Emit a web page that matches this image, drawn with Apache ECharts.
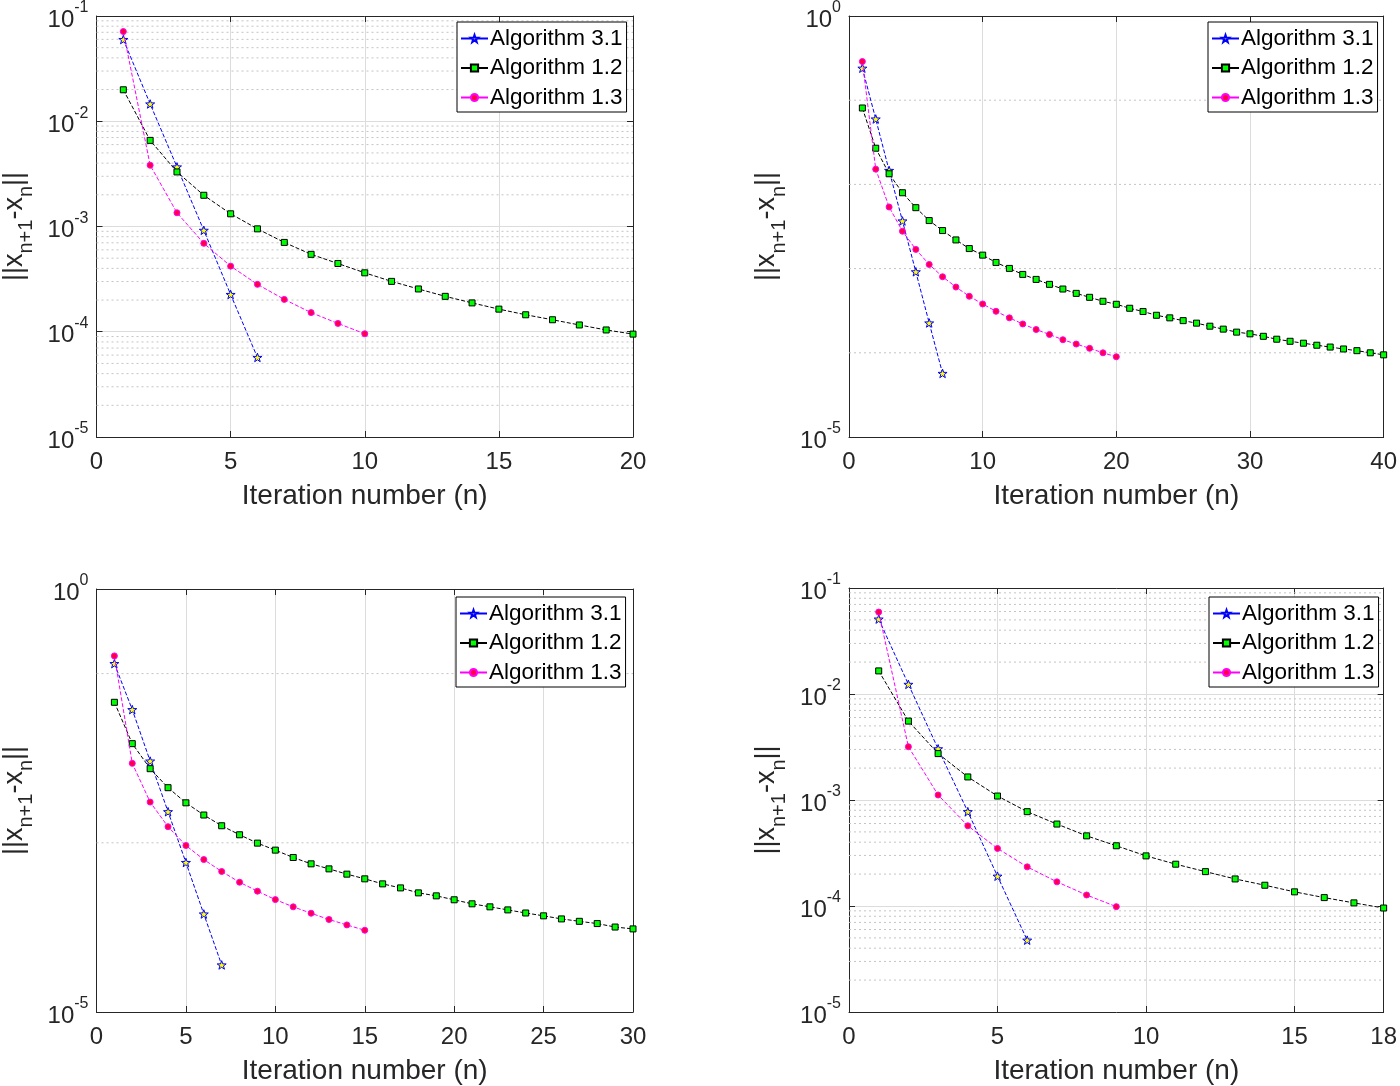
<!DOCTYPE html>
<html><head><meta charset="utf-8">
<script src="https://cdn.jsdelivr.net/npm/echarts@6/dist/echarts.min.js"></script>
<style>html,body{margin:0;padding:0;background:#fff}#c{width:1400px;height:1086px}</style>
</head><body><div id="c"></div>
<script>
// ---------- DATA ----------
const seriesNames = ['Algorithm 3.1', 'Algorithm 1.2', 'Algorithm 1.3'];
const xLabel = 'Iteration number (n)';

// Panel A (top-left)
const pA_alg31 = [0.0598, 0.0146, 0.00368, 9.2e-4, 2.26e-4, 5.7e-5];
const pA_alg12 = [0.0199, 0.00658, 0.00330, 0.00198, 0.00132, 9.5e-4, 7.06e-4, 5.44e-4, 4.45e-4, 3.63e-4,
                  3.01e-4, 2.55e-4, 2.17e-4, 1.88e-4, 1.64e-4, 1.45e-4, 1.30e-4, 1.16e-4, 1.04e-4, 9.5e-5];
const pA_alg13 = [0.0712, 0.00382, 0.00135, 6.92e-4, 4.20e-4, 2.82e-4, 2.03e-4, 1.52e-4, 1.20e-4, 9.57e-5];

// Panel B (top-right)
const pB_alg31 = [0.240, 0.0598, 0.01465, 0.00368, 9.16e-4, 2.26e-4, 5.69e-5];
const pB_alg12 = [0.0808, 0.0269, 0.01337, 0.00796, 0.00529, 0.00372, 0.00283, 0.00219, 0.00173, 0.001445,
                  0.001183, 0.001005, 8.53e-4, 7.44e-4, 6.50e-4, 5.72e-4, 5.08e-4, 4.56e-4, 4.09e-4, 3.77e-4,
                  3.38e-4, 3.09e-4, 2.79e-4, 2.60e-4, 2.41e-4, 2.25e-4, 2.07e-4, 1.91e-4, 1.76e-4, 1.68e-4,
                  1.57e-4, 1.45e-4, 1.37e-4, 1.30e-4, 1.23e-4, 1.17e-4, 1.11e-4, 1.06e-4, 1.00e-4, 9.46e-5];
const pB_alg13 = [0.288, 0.01518, 0.00539, 0.00278, 0.00169, 0.00112, 8.0e-4, 6.04e-4, 4.69e-4, 3.80e-4,
                  3.11e-4, 2.60e-4, 2.20e-4, 1.89e-4, 1.65e-4, 1.43e-4, 1.27e-4, 1.13e-4, 1.0e-4, 8.97e-5];

// Panel C (bottom-left)
const pC_alg31 = [0.1313, 0.0375, 0.00925, 0.00233, 5.85e-4, 1.44e-4, 3.6e-5];
const pC_alg12 = [0.0458, 0.01486, 0.00752, 0.00448, 0.00297, 0.00213, 0.00159, 0.001244, 9.91e-4, 8.19e-4,
                  6.70e-4, 5.64e-4, 4.92e-4, 4.26e-4, 3.75e-4, 3.27e-4, 2.93e-4, 2.56e-4, 2.36e-4, 2.12e-4,
                  1.90e-4, 1.75e-4, 1.61e-4, 1.48e-4, 1.37e-4, 1.26e-4, 1.18e-4, 1.11e-4, 1.01e-4, 9.6e-5];
const pC_alg13 = [0.162, 0.00869, 0.00303, 0.00155, 9.29e-4, 6.34e-4, 4.58e-4, 3.42e-4, 2.68e-4, 2.13e-4,
                  1.75e-4, 1.47e-4, 1.24e-4, 1.07e-4, 9.25e-5];

// Panel D (bottom-right)
const pD_alg31 = [0.0509, 0.01233, 0.00304, 7.76e-4, 1.91e-4, 4.76e-5];
const pD_alg12 = [0.01652, 0.00555, 0.00274, 0.00165, 0.00109, 7.76e-4, 5.93e-4, 4.59e-4, 3.70e-4, 2.97e-4,
                  2.48e-4, 2.11e-4, 1.80e-4, 1.57e-4, 1.36e-4, 1.20e-4, 1.07e-4, 9.57e-5];
const pD_alg13 = [0.0593, 0.00318, 0.001115, 5.71e-4, 3.49e-4, 2.34e-4, 1.69e-4, 1.27e-4, 9.86e-5];

// Axis ranges / ticks
const xMaxA = 20, xMaxB = 40, xMaxC = 30, xMaxD = 18;
const xTickStep = [5, 10, 5, 5];
// dotted minor grid values
const decadesFull = [1e-5, 1e-4, 1e-3, 1e-2];
const minorMult = [2, 3, 4, 5, 6, 7, 8, 9];
const minorFull = [];
decadesFull.forEach(d => minorMult.forEach(m => minorFull.push(+(d * m).toPrecision(3))));
const minorB = [1e-4, 1e-3, 1e-2, 1e-1];
const minorC = [1e-3, 1e-1];

// ---------- LAYOUT / STYLE ----------
const FONT = "'Liberation Sans', Arial, Helvetica, sans-serif";
const TXT = '#262626';
const STAR = 'path://M0,-10 L2.35,-3.24 L9.51,-3.09 L3.8,1.24 L5.88,8.09 L0,4 L-5.88,8.09 L-3.8,1.24 L-9.51,-3.09 L-2.35,-3.24 Z';

const panels = [
  { d: [pA_alg31, pA_alg12, pA_alg13], xMax: xMaxA, xInt: xTickStep[0], yMin: 1e-5, yMax: 1e-1, yInt: 1, minor: minorFull, left: 96, top: 13, h: 424, lgL: 457, lgT: 22 },
  { d: [pB_alg31, pB_alg12, pB_alg13], xMax: xMaxB, xInt: xTickStep[1], yMin: 1e-5, yMax: 1, yInt: 5, minor: minorB, left: 849, top: 14, h: 423, lgL: 1208, lgT: 22 },
  { d: [pC_alg31, pC_alg12, pC_alg13], xMax: xMaxC, xInt: xTickStep[2], yMin: 1e-5, yMax: 1, yInt: 5, minor: minorC, left: 96, top: 589, h: 423, lgL: 456, lgT: 597 },
  { d: [pD_alg31, pD_alg12, pD_alg13], xMax: xMaxD, xInt: xTickStep[3], yMin: 1e-5, yMax: 1e-1, yInt: 1, minor: minorFull, left: 849, top: 588, h: 424, lgL: 1209, lgT: 597 }
];

const styles = [
  { lineStyle: { color: '#0000ff', width: 1, type: [4, 2] }, symbol: STAR, symbolSize: 9, symbolKeepAspect: true,
    itemStyle: { color: '#ffff00', borderColor: '#0000ff', borderWidth: 1 } },
  { lineStyle: { color: '#000000', width: 1, type: [4, 2] }, symbol: 'rect', symbolSize: 6,
    itemStyle: { color: '#00ff00', borderColor: '#000000', borderWidth: 1 } },
  { lineStyle: { color: '#ff00ff', width: 1, type: [4, 2] }, symbol: 'circle', symbolSize: 6,
    itemStyle: { color: '#ff0040', borderColor: '#ff00ff', borderWidth: 1 } }
];

const grids = [], xAxes = [], yAxes = [], series = [], legends = [];
panels.forEach((p, k) => {
  grids.push({ left: p.left, top: p.top, width: 537, height: p.h, show: false, containLabel: false });
  // bottom x
  xAxes.push({ gridIndex: k, type: 'value', min: 0, max: p.xMax, interval: p.xInt, position: 'bottom',
    name: xLabel, nameLocation: 'middle', nameGap: 45,
    nameTextStyle: { fontFamily: FONT, fontSize: 28, color: TXT },
    axisLine: { show: true, onZero: false, lineStyle: { color: TXT, width: 1 } },
    axisTick: { show: true, inside: true, length: 6, lineStyle: { color: TXT } },
    axisLabel: { fontFamily: FONT, fontSize: 24, color: TXT, margin: 13 },
    splitLine: { show: true, lineStyle: { color: '#dcdcdc', width: 1 } } });
  // top x (box)
  xAxes.push({ gridIndex: k, type: 'value', min: 0, max: p.xMax, interval: p.xInt, position: 'top',
    axisLine: { show: true, onZero: false, lineStyle: { color: TXT, width: 1 } },
    axisTick: { show: true, inside: true, length: 6, lineStyle: { color: TXT } },
    axisLabel: { show: false }, splitLine: { show: false } });
  // left y
  yAxes.push({ gridIndex: k, type: 'log', logBase: 10, min: p.yMin, max: p.yMax, interval: p.yInt, position: 'left',
    name: '||x{sub|n+1}-x{sub|n}||', nameLocation: 'middle', nameGap: 60,
    nameTextStyle: { fontFamily: FONT, fontSize: 27, color: TXT,
      rich: { sub: { fontFamily: FONT, fontSize: 20, color: TXT, padding: [24, 0, 0, 0] } } },
    axisLine: { show: true, onZero: false, lineStyle: { color: TXT, width: 1 } },
    axisTick: { show: true, inside: true, length: 6, lineStyle: { color: TXT } },
    axisLabel: { margin: 8, formatter: v => '{b|10}{s|' + Math.round(Math.log10(v)) + '}',
      rich: { b: { fontFamily: FONT, fontSize: 24, color: TXT, padding: [8, 0, 0, 0] },
              s: { fontFamily: FONT, fontSize: 16, color: TXT, verticalAlign: 'top' } } },
    splitLine: { show: true, lineStyle: { color: '#dcdcdc', width: 1 } } });
  // right y (box)
  yAxes.push({ gridIndex: k, type: 'log', logBase: 10, min: p.yMin, max: p.yMax, interval: p.yInt, position: 'right',
    axisLine: { show: true, onZero: false, lineStyle: { color: TXT, width: 1 } },
    axisTick: { show: true, inside: true, length: 6, lineStyle: { color: TXT } },
    axisLabel: { show: false }, splitLine: { show: false } });

  const xi = 2 * k, yi = 2 * k;
  // dotted minor grid lines, drawn through the axes
  p.minor.forEach(v => {
    series.push({ type: 'line', xAxisIndex: xi, yAxisIndex: yi, data: [[0, v], [p.xMax, v]],
      symbol: 'none', silent: true, z: 1, animation: false, emphasis: { disabled: true },
      lineStyle: { color: '#c4c4c4', width: 1, type: [2, 3] } });
  });
  p.d.forEach((arr, j) => {
    series.push(Object.assign({ type: 'line', name: seriesNames[j], xAxisIndex: xi, yAxisIndex: yi,
      data: arr.map((v, i) => [i + 1, v]), showAllSymbol: true, animation: false, z: 3 + j,
      emphasis: { disabled: true } }, styles[j]));
  });
  legends.push({ data: seriesNames, orient: 'vertical', left: p.lgL, top: p.lgT,
    backgroundColor: '#fff', borderColor: '#000', borderWidth: 1, padding: [5, 4, 3, 3],
    itemWidth: 27, itemHeight: 9, itemGap: 6.5, selectedMode: false,
    lineStyle: { type: 'solid' },
    textStyle: { fontFamily: FONT, fontSize: 22.5, color: '#000', padding: [0, 0, 0, -3] } });
});

const chart = echarts.init(document.getElementById('c'), null, { renderer: 'canvas' });
chart.setOption({ backgroundColor: '#fff', animation: false, grid: grids, xAxis: xAxes, yAxis: yAxes, series: series, legend: legends });
</script>
</body></html>
